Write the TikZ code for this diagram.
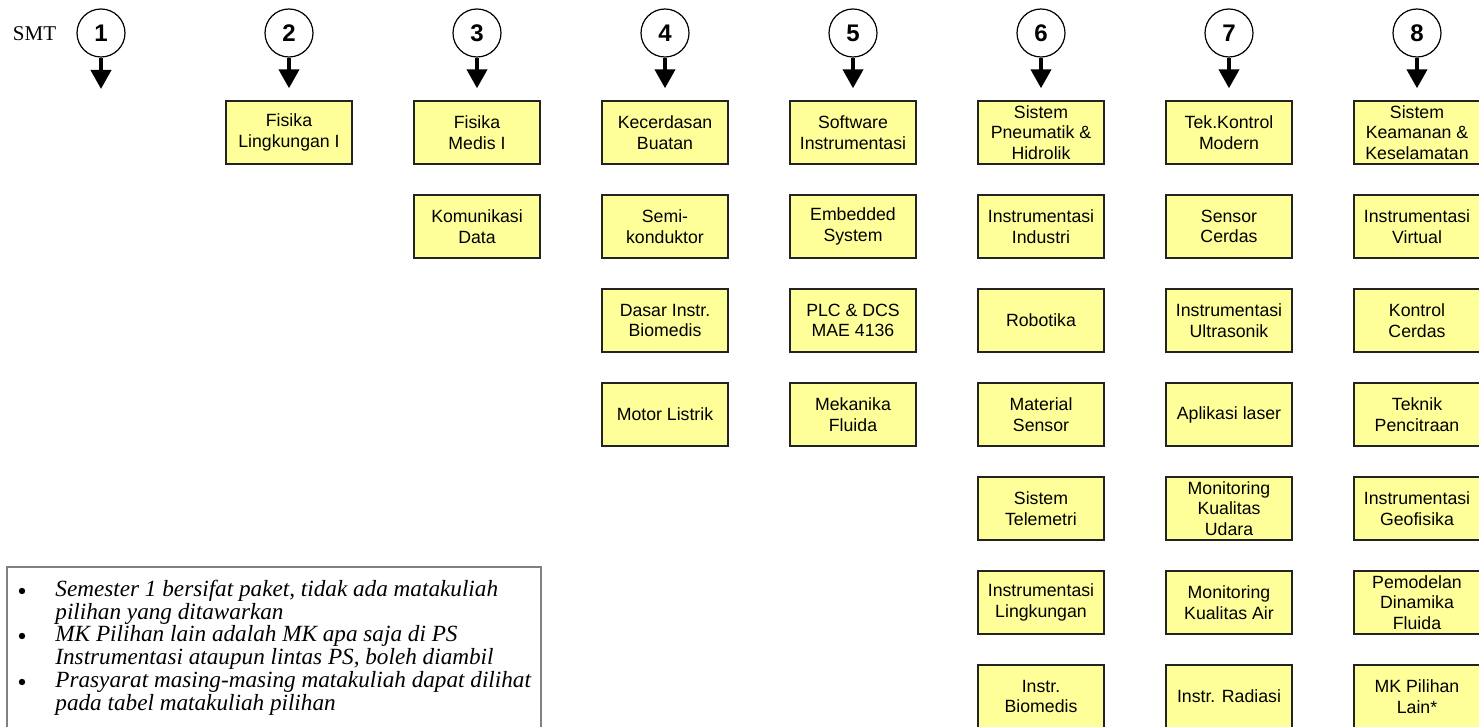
\documentclass[tikz,border=0pt]{standalone}
\usepackage{fontspec}
\setmainfont{Liberation Serif}
\setsansfont{Liberation Sans}
\usetikzlibrary{arrows.meta,positioning}
\definecolor{mkfill}{RGB}{255,255,153}
\definecolor{mkline}{RGB}{35,35,35}
\definecolor{noteline}{RGB}{128,128,128}

\tikzset{
  mkbox/.style={draw=mkline,line width=0.7pt,fill=mkfill,minimum width=63pt,
    minimum height=31.5pt,inner sep=1pt,align=center,
    font=\sffamily\fontsize{8.85}{10.25}\selectfont},
  smtcircle/.style={draw,circle,line width=0.6pt,fill=white,minimum size=24pt,
    inner sep=0pt,font=\sffamily\bfseries\fontsize{12}{12}\selectfont},
  smtarrow/.style={line width=2pt,-{Triangle[width=10pt,length=9.5pt]},shorten >=6pt},
  notetext/.style={anchor=west,inner sep=0pt,align=left,
    font=\itshape\fontsize{11.6}{11.4}\selectfont},
  notedot/.style={circle,fill,inner sep=0pt,minimum size=3.2pt}
}

\begin{document}
\begin{tikzpicture}[x=0.5pt,y=-0.5pt]
  \useasboundingbox (0,0) rectangle (1479,727);

  \node[font=\fontsize{10.5}{10.5}\selectfont] (smt) at (34.5,34) {SMT};

  % semester circles
  \foreach \n [evaluate=\n as \x using 101+188*(\n-1)] in {1,...,8}
    \node[smtcircle] (s\n) at (\x,33) {\n};

  % semester 2
  \foreach \t [count=\r] [evaluate=\r as \y using 132.5+94*(\r-1)] in {{Fisika\\Lingkungan I}}
    \node[mkbox] (k2\r) at (289,\y) {\t};
  % semester 3
  \foreach \t [count=\r] [evaluate=\r as \y using 132.5+94*(\r-1)] in {{Fisika\\Medis I},{Komunikasi\\Data}}
    \node[mkbox] (k3\r) at (477,\y) {\t};
  % semester 4
  \foreach \t [count=\r] [evaluate=\r as \y using 132.5+94*(\r-1)] in
    {{Kecerdasan\\Buatan},{Semi-\\konduktor},{Dasar Instr.\\Biomedis},{Motor Listrik}}
    \node[mkbox] (k4\r) at (665,\y) {\t};
  % semester 5
  \foreach \t [count=\r] [evaluate=\r as \y using 132.5+94*(\r-1)] in
    {{Software\\Instrumentasi},{Embedded\\System},{PLC \& DCS\\MAE 4136},{Mekanika\\Fluida}}
    \node[mkbox] (k5\r) at (853,\y) {\t};
  % semester 6
  \foreach \t [count=\r] [evaluate=\r as \y using 132.5+94*(\r-1)] in
    {{Sistem\\Pneumatik \&\\Hidrolik},{Instrumentasi\\Industri},{Robotika},{Material\\Sensor},
     {Sistem\\Telemetri},{Instrumentasi\\Lingkungan},{Instr.\\Biomedis}}
    \node[mkbox] (k6\r) at (1041,\y) {\t};
  % semester 7
  \foreach \t [count=\r] [evaluate=\r as \y using 132.5+94*(\r-1)] in
    {{Tek.Kontrol\\Modern},{Sensor\\Cerdas},{Instrumentasi\\Ultrasonik},{Aplikasi laser},
     {Monitoring\\Kualitas\\Udara},{Monitoring\\Kualitas Air},{Instr. Radiasi}}
    \node[mkbox] (k7\r) at (1229,\y) {\t};
  % semester 8
  \foreach \t [count=\r] [evaluate=\r as \y using 132.5+94*(\r-1)] in
    {{Sistem\\Keamanan \&\\Keselamatan},{Instrumentasi\\Virtual},{Kontrol\\Cerdas},{Teknik\\Pencitraan},
     {Instrumentasi\\Geofisika},{Pemodelan\\Dinamika\\Fluida},{MK Pilihan\\Lain*}}
    \node[mkbox] (k8\r) at (1417,\y) {\t};

  % arrows
  \coordinate (e1) at (101,101);
  \draw[smtarrow] (s1) -- (e1);
  \foreach \n in {2,...,8}
    \draw[smtarrow] (s\n) -- (k\n1);

  % keterangan
  \draw[noteline,line width=0.6pt] (7,567) rectangle (541,740);
  \node[notedot] (b1) at (22,591) {};
  \node[notedot] (b2) at (22,636) {};
  \node[notedot] (b3) at (22,682) {};
  \node[notetext] (t1) at (55,602.5) {Semester 1 bersifat paket, tidak ada matakuliah\\pilihan yang ditawarkan};
  \node[notetext] (t2) at (55,647.5) {MK Pilihan lain adalah MK apa saja di PS\\Instrumentasi ataupun lintas PS, boleh diambil};
  \node[notetext] (t3) at (55,693.5) {Prasyarat masing-masing matakuliah dapat dilihat\\pada tabel matakuliah pilihan};
\end{tikzpicture}
\end{document}
